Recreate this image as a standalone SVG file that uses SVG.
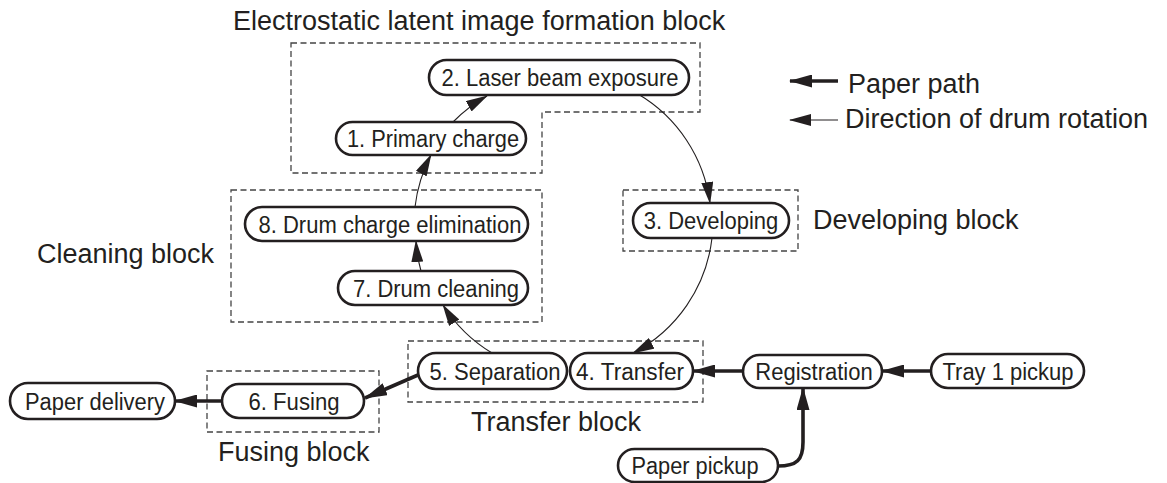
<svg xmlns="http://www.w3.org/2000/svg" width="1167" height="483" viewBox="0 0 1167 483">
<style>
  .blk{fill:none;stroke:#444;stroke-width:1.3;stroke-dasharray:6 3.5}
  .node rect{fill:#fff;stroke:#231f20;stroke-width:2.6}
  .node text{font-family:"Liberation Sans",Arial,sans-serif;font-size:23.5px;fill:#231f20;text-anchor:middle}
  .lbl{font-family:"Liberation Sans",Arial,sans-serif;font-size:27px;fill:#231f20}
  .thin{fill:none;stroke:#231f20;stroke-width:1.1;marker-end:url(#ah)}
  .thick{fill:none;stroke:#231f20;stroke-width:3.6;marker-end:url(#ahb)}
</style>
<defs>
  <marker id="ah" markerUnits="userSpaceOnUse" markerWidth="22" markerHeight="12" refX="21" refY="6" orient="auto" viewBox="0 0 22 12">
    <path d="M0,0 L22,6 L0,12 z" fill="#231f20"/>
  </marker>
  <marker id="ahb" markerUnits="userSpaceOnUse" markerWidth="23" markerHeight="13" refX="22" refY="6.5" orient="auto" viewBox="0 0 23 13">
    <path d="M0,0 L23,6.5 L0,13 z" fill="#231f20"/>
  </marker>
</defs>
<rect width="1167" height="483" fill="#fff"/>

<g id="blocks">
  <polygon class="blk" points="291,43 700,43 700,112 542,112 542,173 291,173"/>
  <rect class="blk" x="231" y="190" width="311" height="132"/>
  <rect class="blk" x="623" y="190" width="175" height="61"/>
  <rect class="blk" x="408" y="341" width="295" height="61"/>
  <rect class="blk" x="207" y="371" width="172" height="61"/>
</g>

<g id="labels">
  <text class="lbl" x="233" y="30">Electrostatic latent image formation block</text>
  <text class="lbl" x="848" y="93">Paper path</text>
  <text class="lbl" x="845" y="128">Direction of drum rotation</text>
  <text class="lbl" x="813" y="229">Developing block</text>
  <text class="lbl" x="37" y="263">Cleaning block</text>
  <text class="lbl" x="471" y="431">Transfer block</text>
  <text class="lbl" x="218" y="461">Fusing block</text>
</g>

<g id="connectors">
  <path class="thin" d="M453,122 A149,149 0 0 1 487,96"/>
  <path class="thin" d="M638,94 A149,149 0 0 1 710,203"/>
  <path class="thin" d="M712,238 A149,149 0 0 1 633,353"/>
  <path class="thin" d="M492,353 A149,149 0 0 1 443,305"/>
  <path class="thin" d="M421,271 A149,149 0 0 1 416,241"/>
  <path class="thin" d="M415,207 A149,149 0 0 1 431,155"/>
  <path class="thick" d="M931,371 L882,371"/>
  <path class="thick" d="M743,371 L693,371"/>
  <path class="thick" d="M778,466 C797,466 803,460 803,442 L803,388"/>
  <path class="thick" d="M418,375 L365,398"/>
  <path class="thick" d="M222,401 L175,401"/>
  <path class="thick" d="M838,81 L790,81"/>
  <path class="thin" d="M838,120 L790,120"/>
</g>

<g id="n2" class="node"><rect x="429" y="60" width="260" height="35" rx="17.5"/><text x="560" y="86" textLength="237" lengthAdjust="spacingAndGlyphs">2. Laser beam exposure</text></g>
<g id="n1" class="node"><rect x="336" y="122" width="190" height="33" rx="16.5"/><text x="433" y="147" textLength="172" lengthAdjust="spacingAndGlyphs">1. Primary charge</text></g>
<g id="n8" class="node"><rect x="245" y="207" width="283" height="34" rx="17"/><text x="390" y="232.5" textLength="263" lengthAdjust="spacingAndGlyphs">8. Drum charge elimination</text></g>
<g id="n7" class="node"><rect x="338" y="271" width="190" height="34" rx="17"/><text x="436" y="296.5" textLength="166" lengthAdjust="spacingAndGlyphs">7. Drum cleaning</text></g>
<g id="n3" class="node"><rect x="633" y="203" width="156" height="35" rx="17.5"/><text x="711" y="229" textLength="134.5" lengthAdjust="spacingAndGlyphs">3. Developing</text></g>
<g id="n5" class="node"><rect x="418" y="353" width="149" height="36" rx="18"/><text x="495" y="379.5" textLength="131" lengthAdjust="spacingAndGlyphs">5. Separation</text></g>
<g id="n4" class="node"><rect x="570" y="353" width="123" height="36" rx="18"/><text x="630" y="379.5" textLength="108" lengthAdjust="spacingAndGlyphs">4. Transfer</text></g>
<g id="nreg" class="node"><rect x="743" y="355" width="139" height="33" rx="16.5"/><text x="814" y="379.5" textLength="117.5" lengthAdjust="spacingAndGlyphs">Registration</text></g>
<g id="ntray" class="node"><rect x="931" y="354" width="153" height="34" rx="17"/><text x="1008" y="379.5" textLength="131" lengthAdjust="spacingAndGlyphs">Tray 1 pickup</text></g>
<g id="npick" class="node"><rect x="618" y="449" width="160" height="33" rx="16.5"/><text x="695" y="474" textLength="127" lengthAdjust="spacingAndGlyphs">Paper pickup</text></g>
<g id="n6" class="node"><rect x="222" y="384" width="142" height="34" rx="17"/><text x="294" y="409.5" textLength="91" lengthAdjust="spacingAndGlyphs">6. Fusing</text></g>
<g id="ndel" class="node"><rect x="10" y="383" width="165" height="36" rx="18"/><text x="95" y="409.5" textLength="140" lengthAdjust="spacingAndGlyphs">Paper delivery</text></g>
</svg>
